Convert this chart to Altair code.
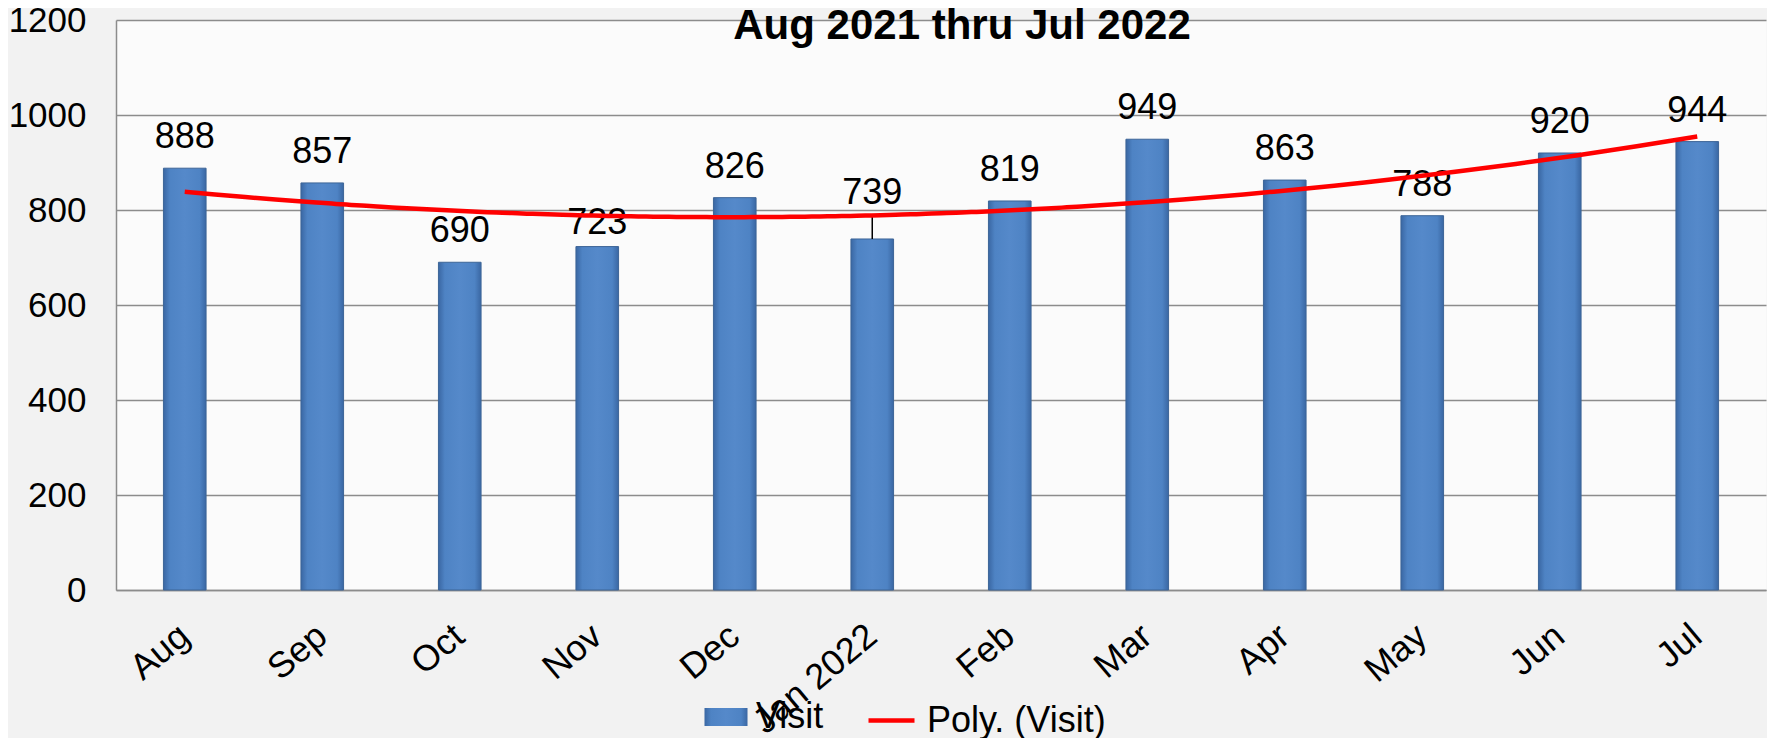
import altair as alt
import pandas as pd

months = ["Aug", "Sep", "Oct", "Nov", "Dec", "Jan 2022", "Feb", "Mar", "Apr", "May", "Jun", "Jul"]
visits = [888, 857, 690, 723, 826, 739, 819, 949, 863, 788, 920, 944]
y_ticks = [0, 200, 400, 600, 800, 1000, 1200]
bar_series = "Visit"
trend_series = "Poly. (Visit)"
title_text = "Aug 2021 thru Jul 2022"

df = pd.DataFrame({
    "month": months,
    "visits": visits,
    "idx": list(range(len(months))),
    "series": bar_series,
})
title_df = pd.DataFrame({"title": [title_text]})

FONT = "Liberation Sans"
GRID = "#8c8c8c"
BLUE = "#4F81BD"
PLOT_W = 1650
PLOT_H = 570

y_axis = alt.Axis(title=None, values=y_ticks, format="d", grid=True, gridColor=GRID, gridWidth=1.5,
                  domain=True, domainColor=GRID, domainWidth=1.5, ticks=False,
                  labelPadding=30, labelFontSize=35, labelFont=FONT, labelColor="black")
y_scale = alt.Scale(domain=[0, 1200], nice=False)

x_band = alt.X("month:N", sort=months,
               scale=alt.Scale(paddingInner=0.69, paddingOuter=0.345),
               axis=alt.Axis(title=None, labelAngle=-40, labelAlign="right", labelBaseline="top",
                             labelPadding=28, labelOffset=-11, labelFontSize=36, labelFont=FONT,
                             labelColor="black", ticks=False, grid=False, domain=True,
                             domainColor=GRID, domainWidth=1.5, labelLimit=400))

bar_fill = alt.LinearGradient(
    gradient="linear", x1=0, x2=1, y1=0, y2=0,
    stops=[alt.GradientStop(offset=0, color="#3A67A3"),
           alt.GradientStop(offset=0.15, color="#4E83C4"),
           alt.GradientStop(offset=0.5, color="#5589CA"),
           alt.GradientStop(offset=0.85, color="#4E83C4"),
           alt.GradientStop(offset=1, color="#3A67A3")])

bars = alt.Chart(df).mark_bar(fill=bar_fill, stroke="#3D6597", strokeWidth=1).encode(
    x=x_band,
    y=alt.Y("visits:Q", scale=y_scale, axis=y_axis),
    opacity=alt.Opacity("series:N", scale=alt.Scale(domain=[bar_series], range=[1]),
                        legend=alt.Legend(title=None, orient="none", legendX=588, legendY=675,
                                          symbolType="M-1,-0.42L1,-0.42L1,0.42L-1,0.42Z",
                                          symbolSize=1849, symbolFillColor=BLUE,
                                          symbolStrokeColor="#3D6597", symbolStrokeWidth=1,
                                          labelFontSize=36, labelFont=FONT, labelColor="black",
                                          labelLimit=400, labelOffset=8)),
)

text_base = alt.Chart(df).encode(
    x=x_band,
    y=alt.Y("visits:Q", scale=y_scale, axis=y_axis),
    text=alt.Text("visits:Q"),
)
labels_main = text_base.transform_filter(
    "datum.month != 'Jan 2022' && datum.month != 'Nov'"
).mark_text(font=FONT, fontSize=36, baseline="alphabetic", dy=-20, color="black")
labels_nov = text_base.transform_filter("datum.month == 'Nov'").mark_text(
    font=FONT, fontSize=36, baseline="alphabetic", dy=-13, color="black")
labels_jan = text_base.transform_filter("datum.month == 'Jan 2022'").mark_text(
    font=FONT, fontSize=36, baseline="alphabetic", dy=-35, color="black")
leader = alt.Chart(df).transform_filter("datum.month == 'Jan 2022'").mark_rule(
    color="black", strokeWidth=1.5, y2Offset=-22).encode(
    x=x_band,
    y=alt.Y("visits:Q", scale=y_scale, axis=y_axis),
    y2=alt.Y2("visits:Q"),
)

# chart title drawn inside the plot area, as in the reference
title_mark = alt.Chart(title_df).mark_text(
    font=FONT, fontSize=42, fontWeight="bold", color="black", align="center",
    baseline="alphabetic").encode(
    x=alt.value(PLOT_W / 2 + 21),
    y=alt.value(19),
    text=alt.Text("title:N"),
)

trend = alt.Chart(df).transform_regression(
    "idx", "visits", method="poly", order=2, extent=[0, len(months) - 1]
).transform_calculate(series=f"'{trend_series}'").mark_line(
    strokeWidth=4.5, interpolate="monotone"
).encode(
    x=alt.X("idx:Q", scale=alt.Scale(domain=[-0.5, len(months) - 0.5], nice=False, zero=False),
            axis=None),
    y=alt.Y("visits:Q", scale=y_scale, axis=y_axis),
    stroke=alt.Stroke("series:N", scale=alt.Scale(domain=[trend_series], range=["#FF0000"]),
                      legend=alt.Legend(title=None, orient="none", legendX=750, legendY=675,
                                        symbolType="stroke", symbolSize=2116,
                                        symbolStrokeWidth=4.5, labelFontSize=36,
                                        labelFont=FONT, labelColor="black",
                                        labelLimit=400, labelOffset=10)),
)

inner = alt.layer(bars, leader, labels_main, labels_nov, labels_jan)

chart = alt.layer(inner, trend, title_mark).resolve_scale(x="independent").properties(
    width=PLOT_W,
    height=PLOT_H,
    autosize=alt.AutoSizeParams(type="none"),
    padding={"left": 108, "top": 12, "right": 1, "bottom": 148},
    background="#f2f2f2",
).configure_view(stroke="transparent", fill="#fbfbfb")

chart.save("out.html", embed_options={"renderer": "svg", "actions": False})
